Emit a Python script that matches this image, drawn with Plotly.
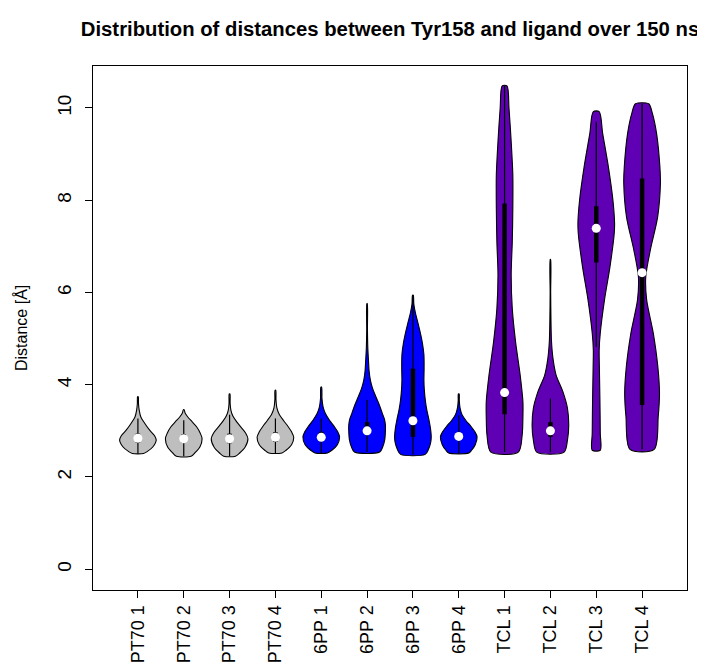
import plotly.graph_objects as go

# ---------------- data ----------------
categories = ["PT70 1", "PT70 2", "PT70 3", "PT70 4",
              "6PP 1", "6PP 2", "6PP 3", "6PP 4",
              "TCL 1", "TCL 2", "TCL 3", "TCL 4"]

# density outline of each violin: distance levels (Å) and relative half-width (0..1)
density_levels = [
    [2.51, 2.55, 2.65, 2.80, 2.90, 3.02, 3.17, 3.30, 3.45, 3.60, 3.74],
    [2.45, 2.52, 2.65, 2.83, 2.95, 3.09, 3.20, 3.30, 3.38, 3.46],
    [2.45, 2.52, 2.65, 2.83, 2.95, 3.08, 3.20, 3.32, 3.45, 3.60, 3.80],
    [2.52, 2.58, 2.70, 2.86, 2.98, 3.10, 3.22, 3.35, 3.50, 3.68, 3.88],
    [2.52, 2.58, 2.70, 2.87, 2.98, 3.09, 3.23, 3.38, 3.52, 3.70, 3.95],
    [2.54, 2.65, 2.80, 3.00, 3.12, 3.25, 3.38, 3.55, 3.74, 3.92, 4.10, 4.30, 4.50, 4.80, 5.20, 5.76],
    [2.49, 2.60, 2.75, 2.87, 3.05, 3.23, 3.45, 3.65, 3.90, 4.10, 4.35, 4.65, 4.90, 5.10, 5.30, 5.55, 5.75, 5.94],
    [2.52, 2.58, 2.70, 2.87, 2.98, 3.10, 3.22, 3.35, 3.50, 3.65, 3.80],
    [2.54, 2.91, 3.30, 3.63, 4.21, 4.93, 5.65, 6.38, 7.10, 7.83, 8.55, 9.27, 10.00, 10.48],
    [2.54, 2.80, 3.12, 3.49, 3.85, 4.21, 4.57, 4.93, 5.40, 6.00, 6.72],
    [2.58, 2.95, 3.67, 4.39, 4.75, 5.12, 5.84, 6.56, 7.28, 7.50, 8.00, 8.73, 9.45, 9.92],
    [2.60, 3.31, 3.81, 4.39, 5.12, 5.84, 6.34, 6.92, 7.64, 8.37, 8.73, 9.45, 9.90, 10.09],
]
density_widths = [
    [0.31, 0.50, 0.81, 1.00, 0.90, 0.63, 0.36, 0.16, 0.07, 0.03, 0.02],
    [0.40, 0.60, 0.88, 1.00, 0.90, 0.70, 0.45, 0.22, 0.08, 0.02],
    [0.32, 0.55, 0.85, 1.00, 0.88, 0.62, 0.38, 0.18, 0.07, 0.03, 0.02],
    [0.36, 0.58, 0.88, 1.00, 0.88, 0.68, 0.45, 0.22, 0.08, 0.03, 0.02],
    [0.34, 0.58, 0.88, 1.00, 0.90, 0.72, 0.45, 0.22, 0.10, 0.04, 0.02],
    [0.69, 0.85, 0.96, 1.00, 1.00, 0.95, 0.83, 0.68, 0.48, 0.30, 0.18, 0.11, 0.08, 0.04, 0.02, 0.01],
    [0.67, 0.85, 0.97, 1.00, 0.96, 0.88, 0.76, 0.68, 0.62, 0.60, 0.61, 0.60, 0.52, 0.42, 0.30, 0.14, 0.05, 0.02],
    [0.55, 0.70, 0.90, 1.00, 0.88, 0.66, 0.40, 0.18, 0.07, 0.03, 0.02],
    [0.75, 0.96, 1.00, 1.00, 0.85, 0.60, 0.42, 0.36, 0.42, 0.45, 0.45, 0.36, 0.24, 0.13],
    [0.75, 0.93, 1.00, 0.93, 0.68, 0.31, 0.14, 0.06, 0.03, 0.015, 0.01],
    [0.22, 0.22, 0.20, 0.17, 0.16, 0.22, 0.45, 0.75, 0.98, 1.00, 0.91, 0.66, 0.35, 0.16],
    [0.66, 0.88, 0.95, 0.86, 0.61, 0.25, 0.20, 0.45, 0.85, 1.00, 0.97, 0.79, 0.55, 0.36],
]

medians = [2.84, 2.83, 2.83, 2.86, 2.86, 3.00, 3.22, 2.88, 3.83, 3.00, 7.39, 6.43]
q1 = [2.74, 2.74, 2.73, 2.76, 2.77, 2.91, 2.87, 2.80, 3.36, 2.87, 6.65, 3.56]
q3 = [2.94, 2.93, 2.94, 2.97, 2.98, 3.19, 4.35, 2.97, 7.93, 3.19, 7.87, 8.47]
whisker_low = [2.51, 2.45, 2.45, 2.52, 2.52, 2.54, 2.49, 2.52, 2.54, 2.54, 4.82, 2.60]
whisker_high = [3.27, 3.23, 3.35, 3.27, 3.27, 3.67, 5.94, 3.34, 10.48, 3.70, 9.70, 10.09]

y_ticks = [0, 2, 4, 6, 8, 10]

# ---------------- styles ----------------
fill_colors = ["#BEBEBE"] * 4 + ["#0000FF"] * 4 + ["#5F00B4"] * 4
HALF = 0.40
FONT = "Liberation Sans, Arial, Helvetica, sans-serif"

# the page body adds an 8 px offset; compensate so the chart sits as in the reference
W, H = 697, 655
ML, MR, MT, MB = 85, 18, 58, 73
PW = W - ML - MR

fig = go.Figure()
positions = list(range(1, len(categories) + 1))

for pos, ys, ws, col in zip(positions, density_levels, density_widths, fill_colors):
    xr = [pos + HALF * w for w in ws]
    xl = [pos - HALF * w for w in ws]
    px = xr + xl[::-1] + [xr[0]]
    py = ys + ys[::-1] + [ys[0]]
    fig.add_trace(go.Scatter(
        x=px, y=py, mode="lines", fill="toself", fillcolor=col,
        line=dict(color="black", width=1.1, shape="spline", smoothing=0.8),
        hoverinfo="skip", showlegend=False))

# whiskers
wx, wy = [], []
for pos, lo, hi in zip(positions, whisker_low, whisker_high):
    wx += [pos, pos, None]
    wy += [lo, hi, None]
fig.add_trace(go.Scatter(x=wx, y=wy, mode="lines",
                         line=dict(color="black", width=1.2),
                         hoverinfo="skip", showlegend=False))
# boxes (IQR)
bx, by = [], []
for pos, a, b in zip(positions, q1, q3):
    bx += [pos, pos, None]
    by += [a, b, None]
fig.add_trace(go.Scatter(x=bx, y=by, mode="lines",
                         line=dict(color="black", width=4.5),
                         hoverinfo="skip", showlegend=False))
# medians
fig.add_trace(go.Scatter(x=positions, y=medians, mode="markers",
                         marker=dict(color="white", size=9, line=dict(width=0)),
                         hoverinfo="skip", showlegend=False))

fig.update_layout(
    width=W, height=H,
    paper_bgcolor="white", plot_bgcolor="white",
    margin=dict(l=ML, r=MR, t=MT, b=MB, autoexpand=False),
    font=dict(family=FONT, size=18, color="black"),
    title=dict(text="<b>Distribution of distances between Tyr158 and ligand over 150 ns</b>",
               x=(ML + PW / 2) / W, xanchor="center",
               y=1 - 21 / H, yanchor="middle",
               font=dict(family=FONT, size=20.3, color="black")),
    annotations=[dict(text="Distance [Å]", textangle=-90, xref="paper", yref="paper",
                      x=-(85 - 13) / PW, y=0.5, xanchor="center", yanchor="middle",
                      showarrow=False, font=dict(family=FONT, size=16, color="black"))],
)
fig.update_xaxes(range=[0.02, 12.98], tickvals=positions, ticktext=categories,
                 tickangle=-90, ticks="outside", ticklen=7, tickwidth=1, tickcolor="black",
                 ticklabelstandoff=0, automargin=False,
                 tickfont=dict(family=FONT, size=18, color="black"),
                 showline=True, linecolor="black", linewidth=1, mirror=True,
                 showgrid=False, zeroline=False)
fig.update_yaxes(range=[-0.45, 10.91], tickvals=y_ticks, ticktext=[str(v) for v in y_ticks],
                 tickangle=-90, ticks="outside", ticklen=7, tickwidth=1, tickcolor="black",
                 ticklabelstandoff=6, automargin=False,
                 tickfont=dict(family=FONT, size=19, color="black"),
                 showline=True, linecolor="black", linewidth=1, mirror=True,
                 showgrid=False, zeroline=False)

fig.write_html("out.html")
